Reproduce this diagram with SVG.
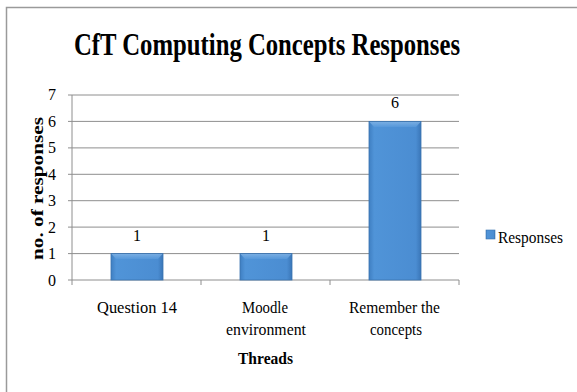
<svg xmlns="http://www.w3.org/2000/svg" width="577" height="392" viewBox="0 0 577 392">
<style>
text{font-family:"Liberation Serif","Times New Roman",serif;fill:#000}
.grid{stroke:#8e8e8e;stroke-width:1}
.axis{stroke:#8e8e8e;stroke-width:1}
.tick{font-size:16px;text-anchor:middle}
.cat{font-size:17px;text-anchor:middle}
.bar{fill:url(#bg);stroke:#3a73b0;stroke-width:0.8}
</style>
<defs>
<linearGradient id="bg" x1="0" y1="0" x2="1" y2="0">
<stop offset="0" stop-color="#3f7fc2"/>
<stop offset="0.1" stop-color="#5094d8"/>
<stop offset="0.9" stop-color="#4b8dd2"/>
<stop offset="1" stop-color="#3a76b8"/>
</linearGradient>
<linearGradient id="top" x1="0" y1="0" x2="0" y2="1">
<stop offset="0" stop-color="#8ab9e8"/>
<stop offset="1" stop-color="#5a9bdc"/>
</linearGradient>
</defs>
<rect x="0" y="0" width="577" height="392" fill="#fff"/>
<path d="M6.5 392V7.5H577" fill="none" stroke="#9a9a9a" stroke-width="1.5"/>
<text x="267" y="55" font-size="32" font-weight="bold" text-anchor="middle" textLength="386" lengthAdjust="spacingAndGlyphs">CfT Computing Concepts Responses</text>
<g id="gridlines">
<line class="grid" x1="72" y1="95" x2="459" y2="95"/>
<line class="grid" x1="72" y1="121.4" x2="459" y2="121.4"/>
<line class="grid" x1="72" y1="147.9" x2="459" y2="147.9"/>
<line class="grid" x1="72" y1="174.3" x2="459" y2="174.3"/>
<line class="grid" x1="72" y1="200.7" x2="459" y2="200.7"/>
<line class="grid" x1="72" y1="227.1" x2="459" y2="227.1"/>
<line class="grid" x1="72" y1="253.6" x2="459" y2="253.6"/>
</g>
<g id="axes">
<line class="axis" x1="72" y1="95" x2="72" y2="280"/>
<line class="axis" x1="68" y1="280" x2="459" y2="280"/>
<path class="axis" d="M68 95H72M68 121.4H72M68 147.9H72M68 174.3H72M68 200.7H72M68 227.1H72M68 253.6H72M72 280V285M201 280V285M330 280V285M459 280V285" fill="none"/>
</g>
<g id="ytick-labels">
<text class="tick" x="52" y="100">7</text>
<text class="tick" x="52" y="126.5">6</text>
<text class="tick" x="52" y="153">5</text>
<text class="tick" x="52" y="179.5">4</text>
<text class="tick" x="52" y="206">3</text>
<text class="tick" x="52" y="232.5">2</text>
<text class="tick" x="52" y="259">1</text>
<text class="tick" x="52" y="285.5">0</text>
</g>
<text transform="translate(43 188.5) rotate(-90)" font-size="17" font-weight="bold" text-anchor="middle" textLength="143" lengthAdjust="spacingAndGlyphs">no. of responses</text>
<g id="bar-q14">
<rect class="bar" x="111" y="253.6" width="52" height="26.4"/>
<path d="M111.5 254H162.5L158 259H116Z" fill="url(#top)" opacity="0.7"/>
<text x="137" y="240.5" font-size="16" text-anchor="middle">1</text>
</g>
<g id="bar-moodle">
<rect class="bar" x="240" y="253.6" width="52" height="26.4"/>
<path d="M240.5 254H291.5L287 259H245Z" fill="url(#top)" opacity="0.7"/>
<text x="266" y="240.5" font-size="16" text-anchor="middle">1</text>
</g>
<g id="bar-remember">
<rect class="bar" x="369" y="121.4" width="52" height="158.6"/>
<path d="M369.5 122H420.5L416 127H374Z" fill="url(#top)" opacity="0.7"/>
<text x="395" y="108" font-size="16" text-anchor="middle">6</text>
</g>
<g id="xlabels">
<text class="cat" x="137" y="313" textLength="80" lengthAdjust="spacingAndGlyphs">Question 14</text>
<text class="cat" x="265" y="313" textLength="46" lengthAdjust="spacingAndGlyphs">Moodle</text>
<text class="cat" x="266" y="335" textLength="80" lengthAdjust="spacingAndGlyphs">environment</text>
<text class="cat" x="394.5" y="313" textLength="91" lengthAdjust="spacingAndGlyphs">Remember the</text>
<text class="cat" x="396" y="335" textLength="52" lengthAdjust="spacingAndGlyphs">concepts</text>
<text x="265.5" y="364" font-size="17" font-weight="bold" text-anchor="middle" textLength="55" lengthAdjust="spacingAndGlyphs">Threads</text>
</g>
<g id="legend">
<rect x="486" y="230" width="9" height="9" fill="url(#bg)" stroke="#3a73b0" stroke-width="0.6"/>
<text x="498" y="243" font-size="17" textLength="65" lengthAdjust="spacingAndGlyphs">Responses</text>
</g>
</svg>
